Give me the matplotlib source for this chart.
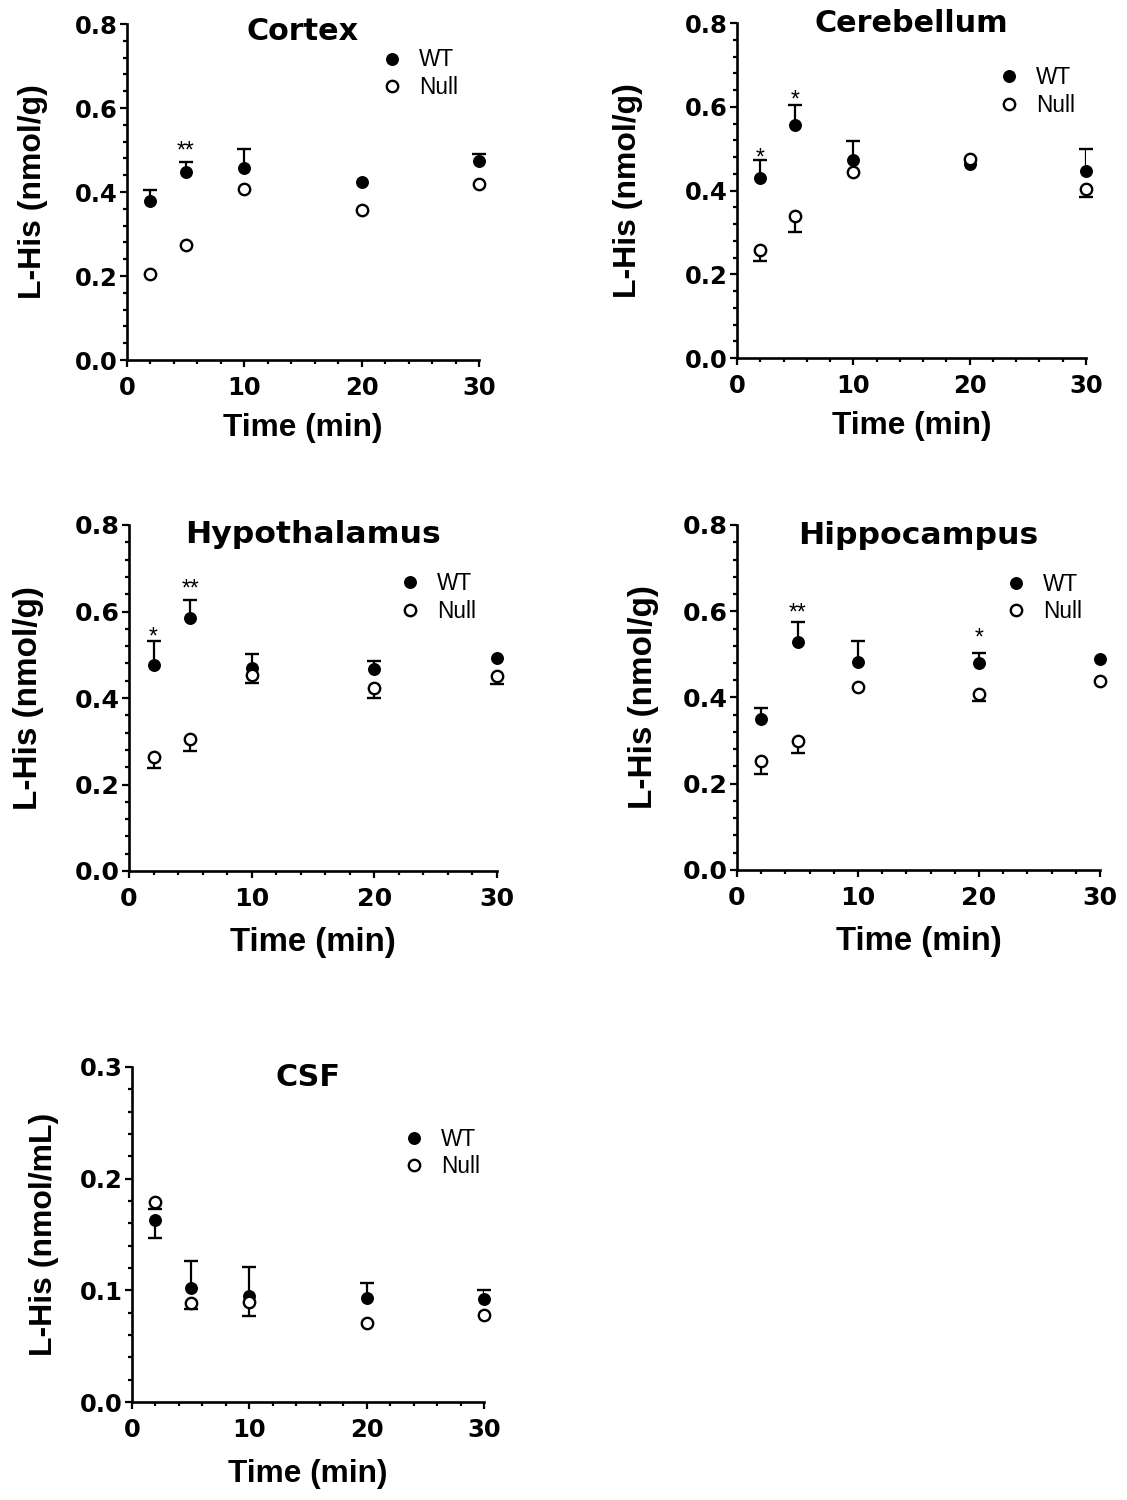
import numpy as np
import matplotlib
matplotlib.use("Agg")
import matplotlib.pyplot as plt
from matplotlib.lines import Line2D
from matplotlib.ticker import MultipleLocator, FormatStrFormatter

times = [2, 5, 10, 20, 30]

# Cortex
cortex_wt = [0.379, 0.447, 0.456, 0.425, 0.475]
cortex_wt_up = [0.026, 0.024, 0.047, 0.0, 0.016]
cortex_wt_dn = [0, 0, 0, 0, 0]
cortex_null = [0.205, 0.275, 0.407, 0.357, 0.420]
cortex_null_dn = [0, 0, 0, 0, 0]
cortex_stars = ["", "**", "", "", ""]
cortex_star_y = [0, 0.514, 0, 0, 0]

# Cerebellum
cereb_wt = [0.429, 0.556, 0.474, 0.464, 0.446]
cereb_wt_up = [0.045, 0.049, 0.045, 0.0, 0.052]
cereb_wt_dn = [0, 0, 0, 0, 0]
cereb_null = [0.258, 0.339, 0.444, 0.476, 0.403]
cereb_null_dn = [0.026, 0.038, 0, 0, 0.018]
cereb_stars = ["*", "*", "", "", ""]
cereb_star_y = [0.494, 0.632, 0, 0, 0]

# Hypothalamus
hypo_wt = [0.476, 0.584, 0.470, 0.467, 0.492]
hypo_wt_up = [0.056, 0.042, 0.032, 0.019, 0.0]
hypo_wt_dn = [0, 0, 0, 0, 0]
hypo_null = [0.263, 0.305, 0.453, 0.422, 0.452]
hypo_null_dn = [0.024, 0.028, 0.019, 0.023, 0.020]
hypo_stars = ["*", "**", "", "", ""]
hypo_star_y = [0.556, 0.667, 0, 0, 0]

# Hippocampus
hippo_wt = [0.350, 0.529, 0.483, 0.480, 0.489]
hippo_wt_up = [0.025, 0.046, 0.048, 0.023, 0.0]
hippo_wt_dn = [0, 0, 0, 0, 0]
hippo_null = [0.252, 0.298, 0.424, 0.408, 0.438]
hippo_null_dn = [0.030, 0.026, 0, 0.017, 0]
hippo_stars = ["", "**", "", "*", ""]
hippo_star_y = [0, 0.612, 0, 0.554, 0]

# CSF
csf_wt = [0.163, 0.102, 0.095, 0.093, 0.092]
csf_wt_up = [0, 0.0245, 0.0255, 0.014, 0.0086]
csf_wt_dn = [0.016, 0, 0, 0, 0]
csf_null = [0.179, 0.089, 0.090, 0.071, 0.078]
csf_null_dn = [0.006, 0.006, 0.013, 0, 0]
csf_stars = ["", "", "", "", ""]
csf_star_y = [0, 0, 0, 0, 0]

plt.rcParams["font.family"] = "DejaVu Sans"
plt.rcParams["font.weight"] = "bold"

W, H = 1127, 1500
fig = plt.figure(figsize=(W / 100, H / 100), dpi=100)


def make_axes(left, right, top, bottom):
    return fig.add_axes([left / W, 1 - bottom / H, (right - left) / W, (bottom - top) / H])


def bars(ax, y, err, sign, z):
    x = np.array(times, float)
    y = np.array(y, float)
    err = np.array(err, float)
    m = err > 0
    if not m.any():
        return
    end = y[m] + sign * err[m]
    ax.vlines(x[m], y[m], end, color="black", lw=1.6, zorder=z)
    ax.plot(x[m], end, ls="none", marker="_", ms=9.8, mew=1.7,
            color="black", zorder=z, clip_on=False)


def panel(box, title, title_y, ymax, ymajor, yminor, ylabel, ylab_x, xlab_y,
          wt, wt_up, wt_dn, null, null_dn, stars, star_y, leg_xy, fs=1.0):
    ax = make_axes(*box)
    bars(ax, wt, wt_up, 1, 2)
    bars(ax, wt, wt_dn, -1, 2)
    ax.plot(times, wt, ls="none", marker="o", ms=8.3, color="black",
            zorder=3, clip_on=False)
    bars(ax, null, null_dn, -1, 4)
    ax.plot(times, null, ls="none", marker="o", ms=8.2, mfc="white",
            mec="black", mew=1.7, zorder=5, clip_on=False)
    for t, s, sy in zip(times, stars, star_y):
        if s:
            ax.annotate(s, xy=(t, sy), xytext=(0, -9.5), textcoords="offset points",
                        ha="center", va="baseline", fontsize=16.5,
                        fontfamily="Liberation Sans", fontweight="normal")

    ax.set_xlim(0, 30)
    ax.set_ylim(0, ymax)
    ax.set_xticks([0, 10, 20, 30])
    ax.xaxis.set_minor_locator(MultipleLocator(2))
    ax.yaxis.set_major_locator(MultipleLocator(ymajor))
    ax.yaxis.set_minor_locator(MultipleLocator(yminor))
    ax.yaxis.set_major_formatter(FormatStrFormatter("%.1f"))
    for side in ("top", "right"):
        ax.spines[side].set_visible(False)
    for side in ("left", "bottom"):
        ax.spines[side].set_linewidth(1.9)
    ax.tick_params(which="major", length=5.3, width=1.6, labelsize=17.5 * fs)
    ax.tick_params(which="minor", length=2.8, width=1.6)
    ax.tick_params(axis="y", which="major", pad=1.5)
    ax.tick_params(axis="x", which="major", pad=6)

    ax.set_xlabel("Time (min)", fontsize=22.8 * fs, fontfamily="Liberation Sans",
                  fontweight="bold")
    ax.xaxis.set_label_coords(0.5, xlab_y)
    ax.set_ylabel(ylabel, fontsize=23 * fs, fontfamily="Liberation Sans",
                  fontweight="bold")
    ax.yaxis.set_label_coords(ylab_x, 0.5)
    ax.text(0.5, title_y, title, transform=ax.transAxes, ha="center",
            va="baseline", fontsize=21.8 * fs)

    handles = [
        Line2D([], [], ls="none", marker="o", ms=8.3, color="black"),
        Line2D([], [], ls="none", marker="o", ms=8.2, mfc="white",
               mec="black", mew=1.7),
    ]
    ax.legend(handles, ["WT", "Null"], loc="center left", bbox_to_anchor=leg_xy,
              frameon=False, borderpad=0, handlelength=0.75, handletextpad=0.82,
              labelspacing=0.2, borderaxespad=0,
              prop={"family": "Liberation Sans", "weight": "normal", "size": 16.3})
    return ax


panel((127, 479, 24, 360), "Cortex", 0.952, 0.8, 0.2, 0.04, "L-His (nmol/g)",
      -0.225, -0.158, cortex_wt, cortex_wt_up, cortex_wt_dn, cortex_null,
      cortex_null_dn, cortex_stars, cortex_star_y, (0.728, 0.852))
panel((737, 1086, 23, 358), "Cerebellum", 0.973, 0.8, 0.2, 0.04, "L-His (nmol/g)",
      -0.269, -0.158, cereb_wt, cereb_wt_up, cereb_wt_dn, cereb_null,
      cereb_null_dn, cereb_stars, cereb_star_y, (0.755, 0.796))
panel((129, 497, 525, 871), "Hypothalamus", 0.947, 0.8, 0.2, 0.04, "L-His (nmol/g)",
      -0.23, -0.162, hypo_wt, hypo_wt_up, hypo_wt_dn, hypo_null,
      hypo_null_dn, hypo_stars, hypo_star_y, (0.740, 0.791), fs=1.04)
panel((737, 1100, 525, 870), "Hippocampus", 0.945, 0.8, 0.2, 0.04, "L-His (nmol/g)",
      -0.215, -0.162, hippo_wt, hippo_wt_up, hippo_wt_dn, hippo_null,
      hippo_null_dn, hippo_stars, hippo_star_y, (0.746, 0.788), fs=1.04)
panel((132, 484, 1067, 1402), "CSF", 0.944, 0.3, 0.1, 0.02, "L-His (nmol/mL)",
      -0.206, -0.17, csf_wt, csf_wt_up, csf_wt_dn, csf_null,
      csf_null_dn, csf_stars, csf_star_y, (0.776, 0.743))

fig.savefig("out.png", dpi=100)
